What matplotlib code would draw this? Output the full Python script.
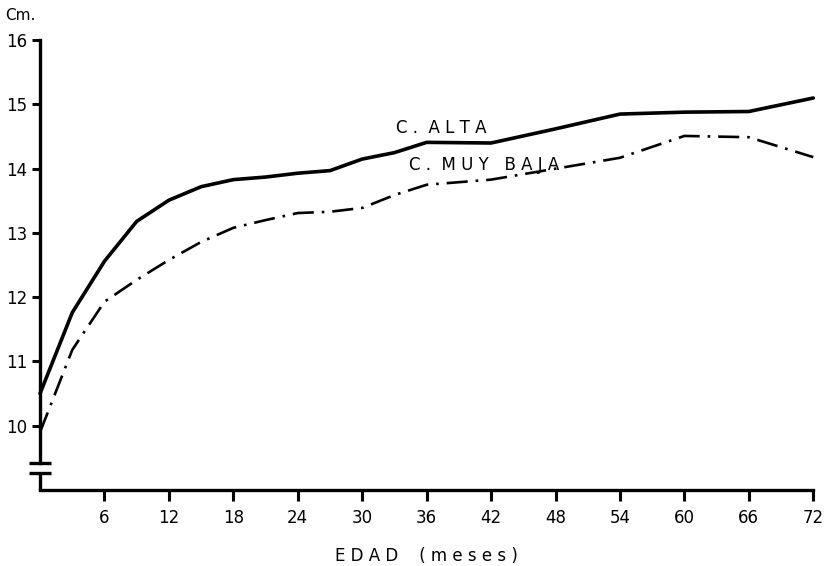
import matplotlib
matplotlib.use("Agg")
import matplotlib.pyplot as plt

# edad en meses
edad = [0, 3, 6, 9, 12, 15, 18, 21, 24, 27, 30, 33, 36, 42, 48, 54, 60, 66, 72]
# C. ALTA
alta = [10.5, 11.76, 12.56, 13.18, 13.51, 13.72, 13.83, 13.87, 13.93, 13.97,
        14.15, 14.25, 14.41, 14.4, 14.62, 14.85, 14.88, 14.89, 15.1]
# C. MUY BAJA
muy_baja = [9.9, 11.18, 11.93, 12.27, 12.58, 12.86, 13.08, 13.2, 13.31, 13.33,
            13.39, 13.59, 13.75, 13.83, 14.0, 14.17, 14.51, 14.49, 14.18]

x_ticks = [6, 12, 18, 24, 30, 36, 42, 48, 54, 60, 66, 72]
y_ticks = [10, 11, 12, 13, 14, 15, 16]

fig = plt.figure(figsize=(8.27, 5.66), dpi=100)
ax = fig.add_axes([0.0484, 0.1343, 0.935, 0.7947])

ax.plot(edad, alta, color="black", lw=2.6, solid_capstyle="round", clip_on=False)
ax.plot(edad, muy_baja, color="black", lw=1.9, linestyle=(0, (8, 3, 1, 3)),
        clip_on=False)

ax.set_xlim(0, 72)
ax.set_ylim(9, 16)

ax.spines["top"].set_visible(False)
ax.spines["right"].set_visible(False)
ax.spines["left"].set_linewidth(2.4)
ax.spines["bottom"].set_linewidth(2.4)
ax.spines["left"].set_bounds(9.42, 16)

# corte del eje y
ax.plot([0, 0], [9, 9.25], color="black", lw=2.4, clip_on=False,
        solid_capstyle="butt")
for yb in (9.42, 9.26):
    ax.plot([-1.0, 1.0], [yb, yb], color="black", lw=2.4, clip_on=False,
            solid_capstyle="butt")

ax.set_xticks(x_ticks)
ax.set_yticks(y_ticks)
ax.tick_params(axis="x", length=8, width=2.2, pad=6, labelsize=12)
ax.tick_params(axis="y", length=6, width=2.2, pad=3, labelsize=12)

ax.text(33.1, 14.63, "C .  A L T A", fontsize=12, ha="left", va="center")
ax.text(34.4, 14.06, "C .  M U Y   B A J A", fontsize=12, ha="left", va="center")

fig.text(0.006, 0.972, "Cm.", fontsize=11, ha="left", va="center")
ax.set_xlabel("E D A D    ( m e s e s )", fontsize=12, labelpad=14)

fig.savefig("out.png", dpi=100)
